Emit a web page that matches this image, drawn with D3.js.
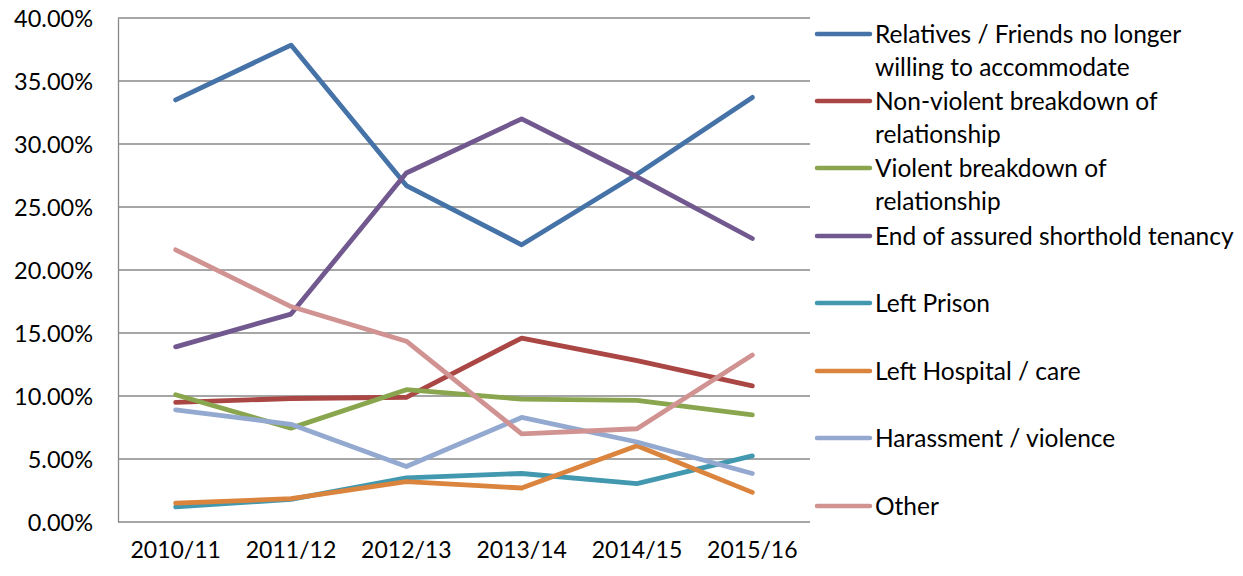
<!DOCTYPE html>
<html>
<head>
<meta charset="utf-8">
<script src="https://cdn.jsdelivr.net/npm/d3@7"></script>
<style>
  body { margin: 0; background: #fff; }
  svg text { font-family: Lato, "Open Sans", sans-serif; fill: #000; }
</style>
</head>
<body>
<svg id="chart" width="1243" height="576"></svg>
<script>
'use strict';

var years = ["2010/11", "2011/12", "2012/13", "2013/14", "2014/15", "2015/16"];
var yTicks = [0, 5, 10, 15, 20, 25, 30, 35, 40];

var relatives = [33.5, 37.85, 26.7, 22.0, 27.6, 33.7];
var nonViolent = [9.5, 9.8, 9.9, 14.6, 12.8, 10.8];
var violent = [10.1, 7.45, 10.5, 9.75, 9.65, 8.5];
var tenancy = [13.9, 16.5, 27.7, 32.0, 27.4, 22.5];
var prison = [1.2, 1.8, 3.5, 3.85, 3.05, 5.25];
var hospital = [1.5, 1.85, 3.2, 2.7, 6.05, 2.35];
var harassment = [8.9, 7.75, 4.4, 8.3, 6.35, 3.85];
var other = [21.6, 17.1, 14.35, 7.0, 7.4, 13.25];

var seriesNames = [
    ["Relatives / Friends no longer", "willing to accommodate"],
    ["Non-violent breakdown of", "relationship"],
    ["Violent breakdown of", "relationship"],
    ["End of assured shorthold tenancy"],
    ["Left Prison"],
    ["Left Hospital / care"],
    ["Harassment / violence"],
    ["Other"]
];
var seriesColors = ["#4572A7", "#AA4643", "#89A54E", "#71588F", "#4198AF", "#DB843D", "#93A9CF", "#D19392"];
var seriesValues = [relatives, nonViolent, violent, tenancy, prison, hospital, harassment, other];

(function() {
    var svg = d3.select("#chart");
    var plotLeft = 118, plotRight = 810, plotTop = 18, plotBottom = 522;

    var x = d3.scaleBand().domain(years).range([plotLeft, plotRight]);
    var y = d3.scaleLinear().domain([0, 40]).range([plotBottom, plotTop]);

    // gridlines
    svg.append("g")
        .selectAll("line")
        .data(yTicks)
        .enter()
        .append("line")
        .attr("x1", plotLeft)
        .attr("x2", plotRight)
        .attr("y1", function(d) { return y(d); })
        .attr("y2", function(d) { return y(d); })
        .attr("stroke", "#898989")
        .attr("stroke-width", 1.3);

    // y axis
    var yAxis = svg.append("g")
        .attr("transform", "translate(" + plotLeft + ",0)")
        .call(d3.axisLeft(y).tickValues(yTicks).tickSize(0).tickPadding(25)
            .tickFormat(function(d) { return d.toFixed(2) + "%"; }));
    yAxis.select(".domain").attr("stroke", "#898989").attr("stroke-width", 1.3);
    yAxis.selectAll("text").attr("font-size", 23.5).attr("dy", "0.35em");

    // x axis
    var xAxis = svg.append("g")
        .attr("transform", "translate(0," + plotBottom + ")")
        .call(d3.axisBottom(x).tickSize(0).tickPadding(20));
    xAxis.select(".domain").remove();
    xAxis.selectAll("text").attr("font-size", 23).attr("dy", "0.71em");

    // lines
    var line = d3.line()
        .x(function(d, i) { return x(years[i]) + x.bandwidth() / 2; })
        .y(function(d) { return y(d); });

    svg.append("g")
        .selectAll("path")
        .data(seriesValues)
        .enter()
        .append("path")
        .attr("d", line)
        .attr("fill", "none")
        .attr("stroke", function(d, i) { return seriesColors[i]; })
        .attr("stroke-width", 4.8)
        .attr("stroke-linejoin", "round")
        .attr("stroke-linecap", "round");

    // legend
    var legendY = [34, 101, 168, 236, 303, 371, 438, 506];
    var legend = svg.append("g")
        .selectAll("g")
        .data(seriesNames)
        .enter()
        .append("g")
        .attr("transform", function(d, i) { return "translate(817," + legendY[i] + ")"; });

    legend.append("line")
        .attr("x1", 0)
        .attr("x2", 53)
        .attr("stroke", function(d, i) { return seriesColors[i]; })
        .attr("stroke-width", 4.5)
        .attr("stroke-linecap", "round");

    legend.append("text")
        .attr("font-size", 24.5)
        .selectAll("tspan")
        .data(function(d) { return d; })
        .enter()
        .append("tspan")
        .attr("x", 58)
        .attr("y", function(d, i) { return i * 33; })
        .attr("dy", "0.35em")
        .text(function(d) { return d; });
})();
</script>
</body>
</html>
